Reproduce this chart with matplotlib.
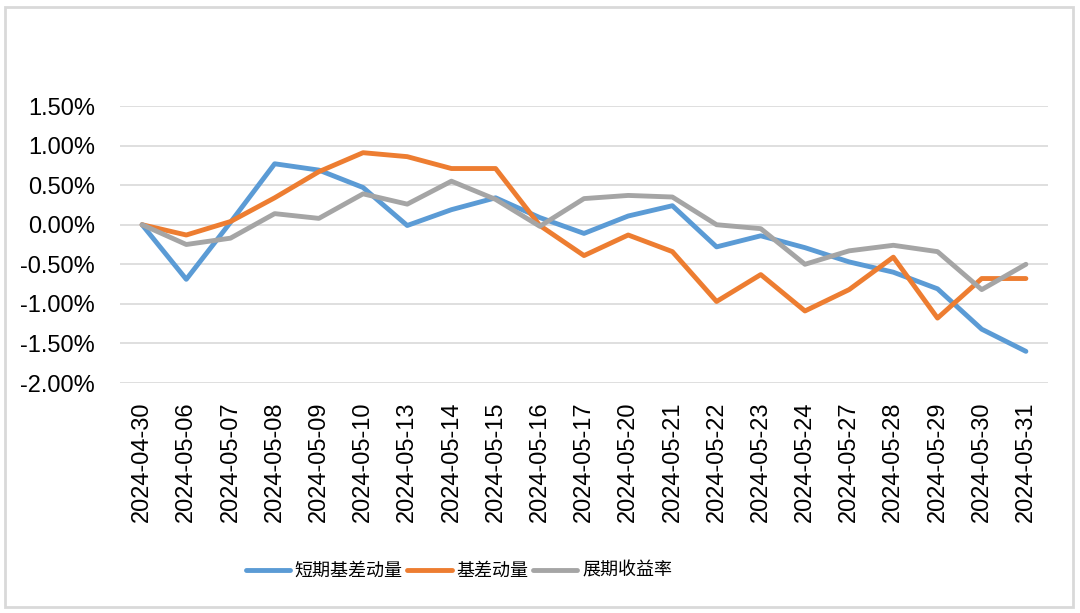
import matplotlib
matplotlib.use("Agg")
import matplotlib.pyplot as plt
from matplotlib.patches import Rectangle
from matplotlib.ticker import FuncFormatter

dates = ["2024-04-30", "2024-05-06", "2024-05-07", "2024-05-08", "2024-05-09",
         "2024-05-10", "2024-05-13", "2024-05-14", "2024-05-15", "2024-05-16",
         "2024-05-17", "2024-05-20", "2024-05-21", "2024-05-22", "2024-05-23",
         "2024-05-24", "2024-05-27", "2024-05-28", "2024-05-29", "2024-05-30",
         "2024-05-31"]

# values in %
short_basis_mom = [0.00, -0.69, 0.03, 0.77, 0.69, 0.47, -0.01, 0.19, 0.34, 0.09,
                   -0.11, 0.11, 0.24, -0.28, -0.14, -0.29, -0.47, -0.60, -0.81, -1.32,
                   -1.60]
basis_mom = [0.00, -0.13, 0.04, 0.34, 0.67, 0.91, 0.86, 0.71, 0.71, -0.01,
             -0.39, -0.13, -0.34, -0.97, -0.63, -1.09, -0.82, -0.41, -1.18, -0.68,
             -0.68]
roll_yield = [0.00, -0.25, -0.17, 0.14, 0.08, 0.39, 0.26, 0.55, 0.32, -0.02,
              0.33, 0.37, 0.35, 0.00, -0.05, -0.50, -0.33, -0.26, -0.34, -0.82,
              -0.50]

series_names = ["短期基差动量", "基差动量", "展期收益率"]
colors = ["#5B9BD5", "#ED7D31", "#A5A5A5"]

fig = plt.figure(figsize=(10.8, 6.13), dpi=100)
fig.patches.append(Rectangle((5 / 1080, 6 / 613), 1068 / 1080, 600 / 613,
                             transform=fig.transFigure, fill=False,
                             edgecolor="#D9D9D9", linewidth=2))

ax = fig.add_axes([120 / 1080, 1 - 383 / 613, 928 / 1080, 277 / 613])
x = list(range(len(dates)))
for vals, name, c in zip([short_basis_mom, basis_mom, roll_yield], series_names, colors):
    ax.plot(x, vals, color=c, lw=3.5, label=name, solid_capstyle="round")

ax.set_xlim(-0.5, len(dates) - 0.5)
ax.set_ylim(-2.0, 1.5)
ax.set_yticks([-2.0, -1.5, -1.0, -0.5, 0.0, 0.5, 1.0, 1.5])
ax.yaxis.set_major_formatter(FuncFormatter(lambda v, p: f"{v:.2f}%"))
ax.set_xticks(x)
ax.set_xticklabels(dates, rotation=90)
ax.tick_params(axis="both", length=0, labelsize=17, labelcolor="black",
               labelfontfamily="Liberation Sans")
ax.tick_params(axis="x", pad=13)
ax.tick_params(axis="y", pad=18)
ax.grid(axis="y", color="#D9D9D9", lw=1.2)
ax.set_axisbelow(True)
for s in ax.spines.values():
    s.set_visible(False)

leg = fig.legend(loc="center", bbox_to_anchor=(459 / 1080, 1 - 571 / 613), ncol=3,
                 frameon=False, handlelength=2.45, handletextpad=0.28,
                 columnspacing=0.25, borderaxespad=0,
                 prop={"family": ["Noto Sans CJK SC", "DejaVu Sans"], "size": 13})

fig.savefig("out.png", dpi=100)
